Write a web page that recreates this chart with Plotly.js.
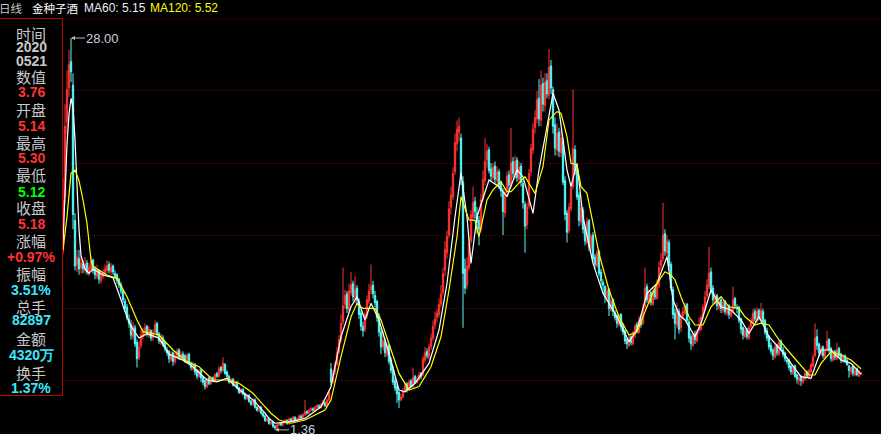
<!DOCTYPE html>
<html><head><meta charset="utf-8">
<script src="https://cdn.plot.ly/plotly-3.0.1.min.js"></script>
<style>html,body{margin:0;padding:0;background:#000;overflow:hidden}#chart{width:881px;height:434px}</style>
</head><body><div id="chart"></div>
<script>
// ---- daily candles (index = trading day in view) ----
const open = [
13.5,17.2,22.3,24.6,26.4,24.8,15.6,12.6,13.0,12.4,
12.6,12.2,12.7,12.0,12.3,12.9,12.3,11.8,12.2,11.5,
11.8,12.0,12.2,12.6,12.1,12.5,12.0,11.9,11.6,11.2,
10.8,10.1,9.7,8.9,8.5,7.7,8.3,7.3,6.3,7.1,
7.7,8.0,8.4,7.8,8.1,7.6,8.0,8.6,7.9,7.3,
7.6,7.3,6.8,6.7,6.1,6.6,6.0,6.3,6.8,6.2,
6.5,6.4,6.0,6.5,5.9,5.5,5.8,5.4,5.0,5.4,
4.9,4.7,4.3,4.9,4.5,4.9,4.7,5.2,5.0,5.6,
5.4,5.8,5.3,5.0,4.6,4.8,4.4,4.6,4.2,3.9,
4.1,3.8,3.5,3.7,3.3,3.1,3.4,2.9,2.7,2.9,
2.5,2.3,2.0,2.1,1.8,1.9,1.6,1.5,1.7,1.8,
1.7,1.9,2.0,1.8,2.1,2.0,2.2,2.0,2.1,2.3,
2.2,2.4,2.6,2.5,2.7,2.8,2.7,2.9,3.0,2.9,
3.1,3.2,3.0,3.4,5.5,4.6,5.3,5.8,6.7,7.5,
8.7,9.9,10.6,9.5,10.7,11.3,10.3,11.0,10.1,9.3,
8.4,8.2,9.1,10.1,10.9,11.2,10.5,10.1,9.1,8.0,
7.0,7.4,6.5,7.1,6.1,5.5,4.7,4.3,3.9,3.4,
3.6,4.0,4.5,4.1,4.7,4.3,5.0,4.6,4.8,5.2,
5.1,6.1,6.7,6.3,7.0,7.6,8.5,9.0,9.2,9.9,
10.7,12.2,13.4,14.6,16.5,17.2,18.9,20.8,21.6,21.2,
18.2,12.3,11.2,12.4,14.2,15.8,16.9,16.1,15.6,15.0,
17.1,18.3,19.7,20.4,19.1,18.5,19.3,18.3,18.9,18.1,
17.5,16.1,17.6,18.7,18.0,19.6,18.7,19.7,18.4,19.3,
18.1,16.7,15.3,16.6,18.9,20.4,21.9,22.5,23.9,22.4,
24.9,23.4,25.1,24.1,26.1,24.5,22.1,20.4,21.6,20.2,
21.0,18.3,16.1,14.9,16.4,17.9,20.4,19.1,17.3,15.5,
16.3,15.1,14.1,15.6,13.7,14.6,13.1,12.5,13.5,12.1,
11.4,11.1,10.3,10.9,9.5,10.2,9.3,9.1,8.5,9.2,
8.5,8.1,7.5,7.1,7.7,7.2,7.8,8.5,8.0,8.9,
8.6,9.7,11.1,10.1,10.7,9.9,10.9,10.3,11.2,12.5,
13.0,14.7,13.4,14.1,12.6,10.9,9.3,8.5,9.4,8.3,
9.1,9.3,9.9,8.7,7.7,7.1,7.9,7.4,8.1,8.2,
9.1,9.6,10.5,11.1,12.1,11.0,10.1,10.5,9.7,10.2,
9.5,10.1,9.3,9.8,9.1,9.4,10.3,9.7,9.7,8.9,
8.3,7.7,8.2,7.6,8.4,8.7,9.4,8.8,9.5,8.9,
9.4,8.8,8.1,7.7,7.1,6.8,6.3,7.1,6.5,7.4,
6.8,6.6,6.1,6.1,5.7,5.2,5.7,5.1,4.7,5.0,
4.6,4.8,5.3,4.9,5.3,5.7,6.4,7.7,7.2,6.5,
7.0,6.3,6.8,7.5,6.9,6.1,6.7,6.2,6.9,6.5,
6.0,6.4,6.1,5.7,5.3,5.7,5.1,5.5,5.0,5.14];
const high = [
18.5,23.5,25.8,27.2,28.0,25.6,16.1,13.6,13.6,13.2,
12.9,13.1,12.9,12.7,13.2,13.0,12.5,12.6,12.3,12.2,
12.3,12.6,12.9,12.8,12.7,12.6,12.2,12.0,11.7,11.4,
10.9,10.3,9.9,9.2,8.8,8.7,8.5,7.5,7.4,8.2,
8.3,8.6,8.5,8.4,8.2,8.2,8.8,8.7,8.0,7.9,
7.8,7.4,7.0,6.8,6.7,6.7,6.6,6.9,6.9,6.7,
6.7,6.5,6.6,6.6,6.0,6.0,5.9,5.5,5.5,5.5,
5.0,4.8,4.9,5.0,5.0,5.0,5.2,5.3,5.7,5.7,
6.3,5.9,5.4,5.1,4.9,4.9,4.7,4.7,4.3,4.2,
4.2,3.9,3.8,3.8,3.4,3.5,3.5,3.0,3.0,3.0,
2.6,2.4,2.2,2.2,2.0,2.0,1.7,1.8,1.9,1.9,
2.0,2.1,2.1,2.2,2.2,2.3,2.3,2.2,2.4,2.4,
2.5,3.4,2.7,2.8,2.9,2.9,3.0,3.1,3.1,3.2,
3.4,3.3,3.5,4.0,5.9,5.4,6.0,7.0,7.8,9.2,
12.4,10.9,10.8,11.3,12.1,11.5,11.8,11.2,10.3,9.5,
8.7,9.4,10.5,11.3,12.6,11.5,10.8,10.2,9.3,8.3,
8.1,7.6,7.3,7.2,6.3,5.7,4.9,4.5,4.0,3.8,
4.2,4.6,4.6,4.8,4.8,5.6,5.1,5.0,5.3,5.3,
6.4,7.0,6.9,7.2,7.9,8.8,9.4,9.6,10.3,11.2,
12.4,14.2,14.9,16.9,17.9,19.2,21.5,22.4,22.6,21.5,
18.6,13.0,13.1,14.5,16.3,17.9,17.2,16.5,15.9,17.4,
19.0,21.2,20.8,20.6,19.5,19.5,19.6,19.3,19.1,18.3,
17.8,17.8,18.9,19.0,21.9,19.9,20.0,19.9,19.6,19.5,
18.3,16.9,16.8,19.1,20.8,22.2,23.1,24.4,25.2,25.8,
25.3,25.6,25.6,27.25,26.5,24.7,22.6,22.2,21.9,21.8,
21.2,18.6,16.3,16.8,18.2,24.5,20.7,19.3,17.5,16.9,
16.5,15.3,15.8,15.7,14.7,14.8,13.3,13.6,13.6,12.3,
11.6,11.2,11.0,11.0,10.3,10.3,9.5,9.2,9.3,9.3,
8.6,8.2,7.6,7.8,7.8,8.1,8.6,8.7,9.1,9.2,
9.9,12.4,11.3,10.9,10.8,11.1,11.0,11.6,12.8,13.4,
16.8,15.0,14.6,14.3,12.8,11.1,9.6,10.0,9.6,9.3,
9.7,10.0,10.0,8.9,7.9,8.0,8.1,8.2,9.0,9.2,
9.9,10.8,11.6,13.8,12.4,11.2,10.7,10.6,10.4,10.3,
10.2,10.2,9.9,9.9,9.7,11.1,10.4,9.9,9.8,9.0,
8.4,8.3,8.3,8.5,9.0,9.6,9.6,9.7,9.6,10.0,
9.6,8.9,8.3,7.8,7.3,6.9,7.2,7.2,7.5,7.5,
7.0,6.7,6.3,6.2,5.8,5.8,5.8,5.2,5.1,5.1,
5.0,5.4,5.4,5.5,5.9,6.5,8.6,8.2,7.3,7.1,
7.1,6.9,8.1,7.6,7.0,6.8,6.8,7.3,7.0,6.6,
6.5,6.5,6.2,5.8,5.7,5.8,5.6,5.6,5.4,5.30];
const low = [
13.3,16.8,21.5,24.0,25.0,15.0,12.2,12.1,11.9,12.0,
12.0,12.0,11.9,11.8,12.1,12.0,11.6,11.6,11.3,11.3,
11.6,11.8,12.0,12.0,11.9,11.9,11.6,11.3,11.0,10.6,
10.0,9.4,8.8,8.3,7.5,7.5,7.0,5.6,6.1,6.9,
7.5,7.8,7.7,7.6,7.4,7.4,7.9,7.7,7.2,7.1,
7.0,6.7,6.4,5.9,6.0,5.7,5.8,6.2,6.1,6.1,
6.1,5.9,5.9,5.8,5.4,5.4,5.1,4.8,4.9,4.6,
4.4,4.1,4.2,4.4,4.4,4.6,4.6,4.9,4.9,5.2,
5.3,5.1,4.9,4.5,4.5,4.3,4.3,4.1,3.8,3.8,
3.7,3.4,3.4,3.2,3.0,3.0,2.8,2.6,2.6,2.4,
2.2,1.9,1.9,1.7,1.7,1.5,1.36,1.45,1.6,1.6,
1.6,1.8,1.7,1.7,1.9,1.9,1.9,1.9,2.0,2.1,
2.1,2.3,2.4,2.4,2.6,2.6,2.6,2.8,2.8,2.8,
3.0,2.9,2.9,3.3,4.4,4.5,5.1,5.7,6.5,7.3,
8.5,9.6,9.3,9.4,10.5,10.1,10.0,9.9,8.9,8.1,
7.7,8.0,8.9,9.9,10.6,10.3,9.7,8.7,7.7,6.5,
6.8,6.3,6.3,5.8,5.2,4.4,4.0,3.2,2.85,3.3,
3.5,3.9,3.9,4.0,4.2,4.2,4.5,4.5,4.7,4.8,
5.0,5.9,6.2,6.1,6.8,7.4,8.2,8.7,9.0,9.7,
10.5,11.8,13.0,14.4,16.0,17.0,18.7,20.3,21.0,18.0,
8.3,10.6,10.9,12.2,14.0,15.6,15.7,14.7,13.9,14.8,
16.9,18.0,19.2,18.8,18.2,18.3,18.1,18.0,17.7,17.2,
14.6,15.8,17.3,17.6,17.8,18.5,18.4,18.2,18.1,17.9,
16.4,13.4,15.0,16.4,18.6,20.1,21.5,22.2,22.0,22.0,
23.0,23.0,23.9,23.8,24.2,21.5,20.0,20.0,19.9,19.9,
18.0,15.6,14.1,14.7,16.2,17.7,18.7,17.0,15.2,15.3,
14.7,13.9,14.0,13.5,13.5,12.8,12.3,12.4,11.8,11.0,
10.6,10.0,10.1,9.1,9.4,9.1,8.8,8.3,8.4,8.1,
7.8,7.2,6.85,7.0,7.1,7.1,7.6,7.9,7.9,8.3,
8.5,9.5,10.0,9.9,9.8,9.8,10.2,10.2,11.0,12.2,
12.8,13.2,13.1,12.2,10.8,8.9,7.5,8.3,7.9,8.0,
8.9,9.2,8.6,7.3,6.8,7.0,7.2,7.3,7.9,8.1,
8.9,9.4,10.3,10.9,10.6,9.9,9.9,9.5,9.5,9.3,
9.3,9.2,9.1,8.9,9.0,9.3,9.6,9.3,8.6,7.9,
7.5,7.6,7.5,7.5,8.2,8.6,8.7,8.6,8.8,8.7,
8.5,7.8,7.4,6.8,6.5,6.1,6.2,6.4,6.4,6.7,
6.3,6.0,5.8,5.4,5.1,5.1,4.9,4.5,4.4,4.34,
4.5,4.7,4.9,4.8,5.2,5.6,6.3,6.8,6.3,6.4,
6.2,6.2,6.7,6.6,6.0,6.0,6.1,6.1,6.2,5.9,
5.9,5.9,5.7,4.9,5.1,5.0,5.0,5.0,4.95,5.12];
const close = [
17.0,22.0,24.5,26.2,25.7,16.0,12.5,13.1,12.3,12.7,
12.3,12.6,12.1,12.4,12.8,12.2,11.9,12.3,11.6,11.9,
12.0,12.3,12.5,12.2,12.4,12.1,11.8,11.5,11.2,10.8,
10.2,9.6,9.0,8.6,7.8,8.4,7.2,6.2,7.0,7.8,
8.0,8.3,7.9,8.2,7.6,8.0,8.5,7.9,7.4,7.7,
7.2,6.9,6.6,6.2,6.5,6.0,6.4,6.7,6.3,6.5,
6.3,6.1,6.4,5.9,5.6,5.8,5.3,5.0,5.3,4.9,
4.6,4.3,4.8,4.5,4.9,4.7,5.1,5.0,5.5,5.4,
5.9,5.2,5.0,4.6,4.8,4.4,4.6,4.2,3.9,4.1,
3.8,3.5,3.7,3.3,3.1,3.4,2.9,2.7,2.9,2.5,
2.3,2.0,2.1,1.8,1.9,1.6,1.5,1.7,1.8,1.7,
1.9,2.0,1.8,2.1,2.0,2.2,2.0,2.1,2.3,2.2,
2.4,2.6,2.5,2.7,2.8,2.7,2.9,3.0,2.9,3.1,
3.2,3.0,3.4,3.9,4.6,5.2,5.8,6.6,7.5,8.6,
9.8,10.5,9.6,10.8,11.2,10.4,10.9,10.2,9.2,8.4,
8.1,9.2,10.2,10.8,11.1,10.6,10.0,9.0,8.0,7.0,
7.4,6.6,7.0,6.0,5.4,4.6,4.2,3.8,3.4,3.6,
4.0,4.4,4.1,4.6,4.3,4.9,4.6,4.8,5.1,5.0,
6.2,6.6,6.4,7.0,7.6,8.4,8.9,9.3,9.9,10.6,
12.0,13.6,14.5,16.4,17.3,18.8,20.9,21.8,22.0,18.5,
12.0,11.0,12.5,14.0,16.0,16.8,16.2,15.5,15.0,17.0,
18.4,19.6,20.3,19.0,18.6,19.2,18.4,18.9,18.0,17.6,
16.2,17.5,18.6,18.0,19.5,18.8,19.6,18.5,19.2,18.2,
16.8,15.2,16.5,18.8,20.5,21.8,22.6,23.8,22.5,24.8,
23.5,25.0,24.2,26.0,24.6,22.0,20.5,21.5,20.3,21.2,
18.2,16.0,14.8,16.5,17.8,20.5,19.0,17.2,15.6,16.4,
15.0,14.2,15.5,13.8,14.5,13.0,12.6,13.4,12.0,11.5,
11.2,10.4,10.8,9.6,10.1,9.4,9.0,8.6,9.1,8.4,
8.0,7.4,7.2,7.6,7.3,7.9,8.4,8.1,8.8,8.5,
9.6,11.0,10.2,10.6,10.0,10.8,10.4,11.3,12.4,12.9,
14.6,13.5,14.2,12.5,11.0,9.2,8.6,9.5,8.2,9.0,
9.4,9.8,8.8,7.6,7.2,7.8,7.5,8.0,8.3,9.0,
9.7,10.4,11.2,12.0,10.9,10.2,10.4,9.8,10.1,9.6,
10.0,9.4,9.7,9.2,9.5,10.2,9.8,9.6,8.8,8.2,
7.8,8.1,7.7,8.3,8.8,9.3,8.9,9.4,9.0,9.5,
8.7,8.0,7.6,7.0,6.7,6.4,7.0,6.6,7.3,6.9,
6.5,6.2,6.0,5.6,5.3,5.6,5.0,4.8,4.9,4.7,
4.9,5.2,5.0,5.4,5.8,6.3,7.6,7.1,6.6,6.9,
6.4,6.7,7.4,6.8,6.2,6.6,6.3,6.8,6.4,6.1,
6.3,6.0,5.8,5.4,5.6,5.2,5.4,5.1,5.3,5.18];

// ---- moving averages (day index, value) ----
const ma60Idx = [0,1,2,3,4,5,6,7,8,9,11,13,15,20,25,28,31,34,38,42,48,53,60,65,72,77,82,88,95,101,103,106,114,121,129,134,139,144,147,151,154,158,163,168,171,176,183,188,192,196,199,202,204,207,213,218,222,227,230,235,238,242,245,248,252,254,257,260,265,270,277,283,287,292,297,302,305,308,311,316,319,324,329,334,339,343,348,353,359,364,369,374,379,384,389,394,399];
const ma60 = [14.0,18.0,20.8,22.8,23.9,23.3,21.1,18.0,15.0,13.2,12.3,12.0,12.3,11.9,11.7,10.6,9.4,8.4,7.6,7.9,7.6,6.5,6.1,5.65,4.75,4.63,4.87,4.1,3.4,2.5,2.14,1.81,1.92,2.14,2.93,4.29,7.69,9.73,10.41,8.83,9.96,8.83,6.57,4.07,3.95,4.53,5.88,8.15,11.32,15.85,18.8,15.85,12.68,15.85,18.35,17.89,17.21,19.03,18.57,16.08,19.03,21.97,24.24,23.11,19.03,17.89,19.48,15.85,12.68,10.64,9.05,7.35,8.15,10.64,11.32,13.13,10.2,9.2,8.83,7.69,8.61,10.87,9.73,9.51,8.83,7.92,9.05,7.69,6.79,5.88,4.98,4.87,6.79,6.79,6.11,5.88,5.15];
const ma120Idx = [0,2,4,6,8,10,12,14,15,22,27,32,37,40,48,55,62,68,75,82,88,95,101,104,108,114,121,131,134,139,144,147,150,156,159,163,168,173,178,184,189,193,197,199,203,206,208,212,215,219,222,224,227,231,236,240,243,247,249,252,254,257,259,262,265,268,273,278,283,287,292,297,301,304,306,309,313,316,320,324,329,333,338,341,346,349,353,358,363,368,373,376,379,384,389,394,399];
const ma120 = [13.6,15.85,18.8,19.03,18.3,17.0,15.4,12.9,12.46,11.89,11.66,10.41,8.83,8.04,7.81,6.79,6.0,5.65,4.75,4.75,4.53,3.85,2.93,2.49,2.03,1.81,2.03,2.71,3.39,6.34,9.05,9.96,9.62,9.62,8.83,7.24,5.2,4.07,4.3,5.65,7.69,10.87,14.49,17.21,15.63,15.6,14.49,16.99,17.67,18.23,17.55,17.55,18.01,18.57,17.44,19.25,22.43,22.99,22.88,21.29,19.48,19.37,17.89,17.44,15.4,13.36,10.87,9.05,7.81,8.04,9.73,11.32,12.11,11.89,11.55,10.41,9.05,8.49,8.49,9.73,10.41,9.73,9.62,9.05,8.49,8.61,8.49,7.47,6.67,5.88,5.09,5.09,5.88,6.67,6.45,6.11,5.52];

// ---- texts ----
const stockName = '金种子酒';
const periodName = '日线';
const panelLabels = ['时间','数值','开盘','最高','最低','收盘','涨幅','振幅','总手','金额','换手'];
const panelDate = ['2020','0521'];
const panelValues = ['3.76','5.14','5.30','5.12','5.18','+0.97%','3.51%','82897','4320万','1.37%'];

// ---- drawing ----
const W=881, H=434, L=62, T=19;
const PX = v => (v - L) / (W - L);
const PY = v => (H - v) / (H - T);
const yTop = 30.583 - T/14.71, yBot = 30.583 - H/14.71;
const gridVals = [90.3,163.0,235.5,308.0,380.4].map(p => 30.583 - p/14.71);

const N = close.length;
const days = Array.from({length:N}, (_, i) => i);

const RED='#ff3333', CYAN='#54fcfc', GREEN='#00ff00', LBL='#c8c8c8', GRID='#a00000', VCYAN='#3ce8ff';

const traces = [
  {type:'candlestick', x:days, open:open, high:high, low:low, close:close,
   increasing:{line:{color:RED,width:1},fillcolor:RED},
   decreasing:{line:{color:CYAN,width:1},fillcolor:CYAN},
   whiskerwidth:0, hoverinfo:'skip', showlegend:false},
  {type:'scatter', mode:'lines', x:ma60Idx, y:ma60, line:{color:'#ffffff',width:1.2}, hoverinfo:'skip', showlegend:false},
  {type:'scatter', mode:'lines', x:ma120Idx, y:ma120, line:{color:'#ffff00',width:1.2}, hoverinfo:'skip', showlegend:false}
];

let hiI = 0, loI = 0;
for (let i=1;i<N;i++){ if (high[i]>high[hiI]) hiI=i; if (low[i]<low[loI]) loI=i; }

const cjk = '"Noto Sans CJK SC", "Noto Sans", sans-serif';
const num = 'Arial, "Liberation Sans", sans-serif';
const ann = [];
function txt(x, y, text, font, anchor){
  ann.push({xref:'paper',yref:'paper',x:PX(x),y:PY(y),xanchor:anchor||'left',yanchor:'middle',showarrow:false,borderpad:0,text:text,font:font});
}
// header
txt(-2, 8, periodName, {family:cjk,size:11.5,color:LBL});
txt(31, 8, stockName, {family:cjk,size:11.5,color:'#ffffff'});
txt(83, 8, 'MA60: '+ma60[ma60.length-1].toFixed(2), {family:num,size:12,color:'#e8eef8'});
txt(149, 8, 'MA120: '+ma120[ma120.length-1].toFixed(2), {family:num,size:12,color:'#ffff00'});
// side panel
const labelY = [33,76,109,142,175,207,240,273,306,338,372];
const valueY = [92,126,158,192,224,257,290,320,355,388];
const valueC = [RED,RED,RED,GREEN,RED,RED,VCYAN,VCYAN,VCYAN,VCYAN];
panelLabels.forEach((t,k)=>txt(31, labelY[k], t, {family:cjk,size:15,color:LBL}, 'center'));
panelDate.forEach((t,k)=>txt(31, [47,61][k], '<b>'+t+'</b>', {family:num,size:14,color:LBL}, 'center'));
panelValues.forEach((t,k)=>txt(31, valueY[k], '<b>'+t+'</b>', {family:num,size:14,color:valueC[k]}, 'center'));
// extremes
[[hiI, high[hiI]], [loI, low[loI]]].forEach(p => ann.push({x:p[0],y:p[1],xref:'x',yref:'y',text:p[1].toFixed(2),showarrow:true,arrowhead:2,arrowsize:0.8,arrowwidth:1,arrowcolor:'#b8b8b8',ax:14,ay:0,xanchor:'left',yanchor:'middle',borderpad:0,font:{family:num,size:13,color:'#c8d0dc'}}));

const shapes = [
  {type:'line',xref:'paper',yref:'paper',x0:0,x1:1,y0:1,y1:1,line:{color:GRID,width:1,dash:'1px,3px'}},
  {type:'rect',xref:'paper',yref:'paper',x0:PX(-2),x1:PX(62.5),y0:PY(395.5),y1:PY(18.5),line:{color:'#c00000',width:1},fillcolor:'rgba(0,0,0,0)'}
];

const layout = {
  width:W, height:H, margin:{l:L,r:0,t:T,b:0,pad:0},
  paper_bgcolor:'#000', plot_bgcolor:'#000', showlegend:false, dragmode:false,
  boxgap:0.05,
  xaxis:{range:[-0.5,409], showgrid:false, zeroline:false, showticklabels:false, ticks:'', showline:false, rangeslider:{visible:false}, fixedrange:true},
  yaxis:{range:[yBot,yTop], tickvals:gridVals, showticklabels:false, ticks:'', gridcolor:GRID, gridwidth:1, griddash:'1px,3px', zeroline:false, showline:false, fixedrange:true},
  shapes:shapes, annotations:ann
};
Plotly.newPlot('chart', traces, layout, {displayModeBar:false, staticPlot:true});
</script></body></html>
